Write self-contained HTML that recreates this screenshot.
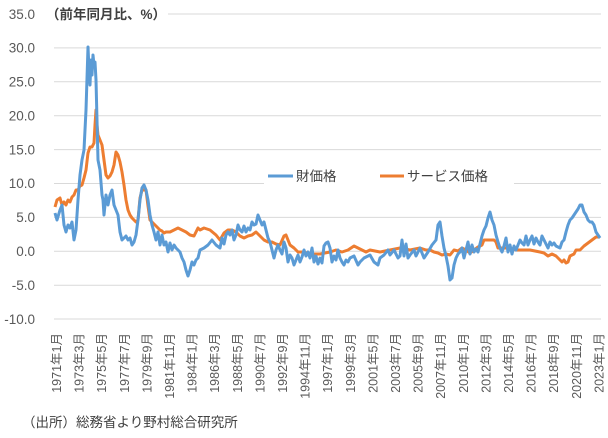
<!DOCTYPE html>
<html><head><meta charset="utf-8"><style>
body{margin:0;background:#fff;}
svg{display:block;font-family:"Liberation Sans","Noto Sans CJK JP",sans-serif;}
</style></head><body>
<svg width="608" height="438" viewBox="0 0 608 438" xmlns="http://www.w3.org/2000/svg">
<g stroke="#d9d9d9" stroke-width="1">
<line x1="54" x2="601" y1="14" y2="14"/><line x1="54" x2="601" y1="47.9" y2="47.9"/><line x1="54" x2="601" y1="81.8" y2="81.8"/><line x1="54" x2="601" y1="115.7" y2="115.7"/><line x1="54" x2="601" y1="149.6" y2="149.6"/><line x1="54" x2="601" y1="183.5" y2="183.5"/><line x1="54" x2="601" y1="217.4" y2="217.4"/><line x1="54" x2="601" y1="251.3" y2="251.3"/><line x1="54" x2="601" y1="285.2" y2="285.2"/><line x1="54" x2="601" y1="319" y2="319"/>
</g>
<rect x="40" y="4" width="128" height="20" fill="#fff"/>
<g fill="#595959" font-size="13.5" text-anchor="end">
<text x="35" y="19">35.0</text><text x="35" y="52.5">30.0</text><text x="35" y="86.5">25.0</text><text x="35" y="120.5">20.0</text><text x="35" y="154.5">15.0</text><text x="35" y="188">10.0</text><text x="35" y="222">5.0</text><text x="35" y="256">0.0</text><text x="35" y="290">-5.0</text><text x="35" y="324">-10.0</text>
</g>
<text x="46" y="19" font-size="13.5" fill="#404040" font-weight="bold">（前年同月比、%）</text>
<polyline fill="none" stroke="#ED7D31" stroke-width="3" stroke-linejoin="round" points="55,207 57,200 60,198 62,205 64,202 66,205 68,200 70,202 72,197 74,195 76,190 78,190 80,186 82,185 84,178 86,170 88,153 90,147 92,147 94,143 95,125 96,110 97,125 98,135 100,140 102,145 104,160 106,175 108,178 110,176 112,172 114,165 116,152 118,155 120,162 122,172 124,185 126,200 128,210 130,215 132,218 134,220 136,222 138,220 140,198 142,190 144,190 146,190 148,206 150,220 152,222 154,224 156,226 158,228 160,230 162,231 164,233 166,232 170,232 174,230 178,228 182,230 186,232 190,235 194,236 196,232 198,228 200,230 204,228 210,230 216,235 220,240 224,233 228,230 232,230 236,232 240,236 244,238 248,236 252,235 256,232 260,236 264,240 268,242 272,242 276,244 280,245 284,236 286,235 288,240 290,245 294,248 298,252 304,252 310,254 320,254 330,252 336,250 342,252 348,250 354,246 358,248 362,250 366,252 370,250 380,252 390,250 400,248 410,250 420,248 426,250 430,250 434,252 438,253 442,255 446,254 450,255 454,250 458,251 462,248 466,250 470,253 474,250 478,247 482,245 484,240 486,240 490,240 494,240 496,242 498,248 504,248 510,248 516,250 522,250 530,250 540,252 544,253 548,256 552,254 556,256 560,260 562,262 564,260 566,263 568,262 570,256 572,255 574,254 576,250 580,250 584,246 588,243 592,240 596,237 600,237"/>
<polyline fill="none" stroke="#5B9BD5" stroke-width="3" stroke-linejoin="round" points="55,213 57,220 60,210 62,205 64,225 66,232 68,225 70,228 72,222 74,240 76,230 78,200 80,175 82,160 84,150 86,110 88,47 89,70 90,85 91,60 92,75 93,55 94,65 95,62 96,80 97,120 98,160 100,170 102,195 103,200 104,215 106,195 108,205 110,195 112,190 114,205 116,210 118,215 120,232 122,240 124,238 126,236 128,240 130,238 132,245 134,242 136,235 138,220 140,200 142,188 144,185 146,190 148,200 150,215 152,225 154,232 156,240 158,232 160,245 162,235 164,245 166,242 168,252 170,243 172,250 174,245 176,248 178,250 180,252 182,258 184,262 186,270 188,276 190,270 192,262 194,265 196,260 198,258 200,250 204,248 208,245 212,240 216,245 220,248 222,238 224,244 226,235 228,232 230,235 232,230 234,240 236,235 238,225 240,230 242,232 244,226 246,232 248,228 250,230 252,222 254,225 256,224 258,215 260,220 262,225 264,222 266,230 268,238 270,242 272,250 274,258 276,250 278,245 280,250 282,254 284,242 286,248 288,262 290,255 292,258 294,265 296,260 298,255 300,262 302,257 304,250 306,256 308,252 310,258 312,248 314,262 316,256 318,264 320,258 322,263 324,246 326,243 328,242 330,248 332,262 334,256 336,260 338,250 340,258 342,262 344,265 346,260 348,262 350,258 354,256 358,265 360,262 364,258 370,255 374,262 378,265 380,258 384,255 388,250 390,255 394,250 398,258 400,256 402,240 404,256 406,244 408,258 410,255 414,250 416,256 420,248 424,258 428,252 432,245 436,240 438,225 440,222 442,236 444,248 446,256 448,266 450,280 452,278 454,265 456,258 458,254 460,252 462,248 464,258 466,250 468,242 470,254 472,245 474,252 476,249 478,252 480,244 482,236 484,230 486,226 488,218 490,212 492,220 494,225 496,235 498,242 500,248 502,252 504,246 506,238 508,252 510,245 512,254 514,246 516,250 518,245 520,240 522,243 524,245 526,236 528,245 530,240 532,236 534,244 536,238 538,242 540,245 542,236 544,240 546,244 548,248 550,242 552,245 554,243 556,246 560,248 562,242 564,240 566,232 568,225 570,220 572,218 574,215 576,212 578,209 580,205 582,205 584,212 586,215 588,220 590,222 592,222 594,225 596,232 598,235 600,238"/>
<rect x="264" y="166" width="250" height="20" fill="#fff"/>
<line x1="268" x2="293" y1="176" y2="176" stroke="#5B9BD5" stroke-width="3"/>
<text x="296" y="181" font-size="13.5" fill="#404040">財価格</text>
<line x1="380" x2="404" y1="176" y2="176" stroke="#ED7D31" stroke-width="3"/>
<text x="407" y="181" font-size="13.5" fill="#404040">サービス価格</text>
<g fill="#595959" font-size="12.5" text-anchor="end">
<text transform="translate(61,333) rotate(-90)">1971年1月</text>
<text transform="translate(83.6,333) rotate(-90)">1973年3月</text>
<text transform="translate(106.2,333) rotate(-90)">1975年5月</text>
<text transform="translate(128.8,333) rotate(-90)">1977年7月</text>
<text transform="translate(151.4,333) rotate(-90)">1979年9月</text>
<text transform="translate(174,333) rotate(-90)">1981年11月</text>
<text transform="translate(196.6,333) rotate(-90)">1984年1月</text>
<text transform="translate(219.2,333) rotate(-90)">1986年3月</text>
<text transform="translate(241.8,333) rotate(-90)">1988年5月</text>
<text transform="translate(264.4,333) rotate(-90)">1990年7月</text>
<text transform="translate(287,333) rotate(-90)">1992年9月</text>
<text transform="translate(309.6,333) rotate(-90)">1994年11月</text>
<text transform="translate(332.2,333) rotate(-90)">1997年1月</text>
<text transform="translate(354.8,333) rotate(-90)">1999年3月</text>
<text transform="translate(377.4,333) rotate(-90)">2001年5月</text>
<text transform="translate(400,333) rotate(-90)">2003年7月</text>
<text transform="translate(422.6,333) rotate(-90)">2005年9月</text>
<text transform="translate(445.2,333) rotate(-90)">2007年11月</text>
<text transform="translate(467.8,333) rotate(-90)">2010年1月</text>
<text transform="translate(490.4,333) rotate(-90)">2012年3月</text>
<text transform="translate(513,333) rotate(-90)">2014年5月</text>
<text transform="translate(535.6,333) rotate(-90)">2016年7月</text>
<text transform="translate(558.2,333) rotate(-90)">2018年9月</text>
<text transform="translate(580.8,333) rotate(-90)">2020年11月</text>
<text transform="translate(603.4,333) rotate(-90)">2023年1月</text>
</g>
<text x="22" y="427" font-size="13.5" fill="#404040">（出所）総務省より野村総合研究所</text>
</svg>
</body></html>
